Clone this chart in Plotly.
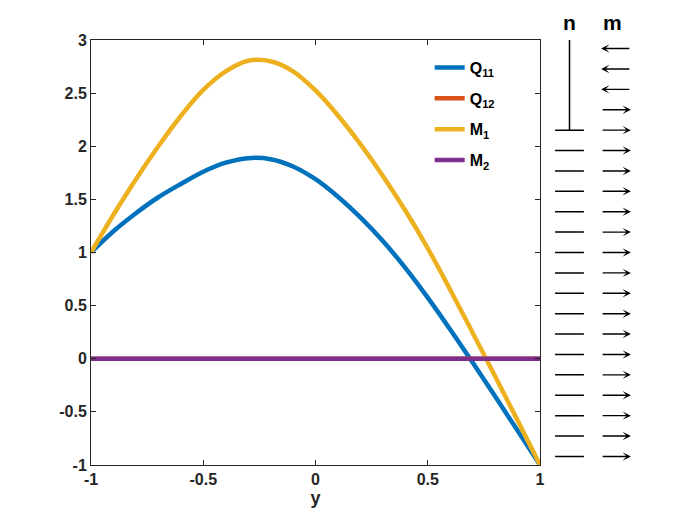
import plotly.graph_objects as go

y_pos = [-1.0, -0.9, -0.8, -0.7, -0.6, -0.5, -0.4, -0.3, -0.2, -0.1, 0.0,
         0.1, 0.2, 0.3, 0.4, 0.5, 0.6, 0.7, 0.8, 0.9, 1.0]
q11 = [1.00, 1.20, 1.37, 1.52, 1.645, 1.76, 1.845, 1.888, 1.878, 1.81, 1.69,
       1.525, 1.33, 1.108, 0.856, 0.576, 0.276, -0.036, -0.354, -0.676, -1.00]
q12 = [0.0, 0.0, 0.0, 0.0, 0.0, 0.0, 0.0, 0.0, 0.0, 0.0, 0.0,
       0.0, 0.0, 0.0, 0.0, 0.0, 0.0, 0.0, 0.0, 0.0, 0.0]
m1 = [1.00, 1.355, 1.69, 2.00, 2.285, 2.53, 2.705, 2.805, 2.80, 2.705, 2.525,
      2.29, 2.02, 1.72, 1.395, 1.04, 0.65, 0.245, -0.165, -0.58, -1.00]
m2 = [0.0, 0.0, 0.0, 0.0, 0.0, 0.0, 0.0, 0.0, 0.0, 0.0, 0.0,
      0.0, 0.0, 0.0, 0.0, 0.0, 0.0, 0.0, 0.0, 0.0, 0.0]

series_names = ["Q<sub>11</sub>", "Q<sub>12</sub>", "M<sub>1</sub>", "M<sub>2</sub>"]
series_colors = ["#0072BD", "#D95319", "#EDB120", "#7E2F8E"]

x_ticks = [-1, -0.5, 0, 0.5, 1]
x_ticklabels = ["-1", "-0.5", "0", "0.5", "1"]
y_ticks = [-1, -0.5, 0, 0.5, 1, 1.5, 2, 2.5, 3]
y_ticklabels = ["-1", "-0.5", "0", "0.5", "1", "1.5", "2", "2.5", "3"]

# side sketch: director n and vector m at each height, top to bottom
glyph_y = [1.0, 0.9, 0.8, 0.7, 0.6, 0.5, 0.4, 0.3, 0.2, 0.1, 0.0,
           -0.1, -0.2, -0.3, -0.4, -0.5, -0.6, -0.7, -0.8, -0.9, -1.0]
n_vertical = [1, 1, 1, 1, 0, 0, 0, 0, 0, 0, 0,
              0, 0, 0, 0, 0, 0, 0, 0, 0, 0]
m_dir = [-1, -1, -1, 1, 1, 1, 1, 1, 1, 1, 1,
         1, 1, 1, 1, 1, 1, 1, 1, 1, 1]

FONT = "Liberation Sans, Arial, sans-serif"
AX = "#262626"

fig = go.Figure()

for i, (name, vals, col) in enumerate(zip(series_names, [q11, q12, m1, m2], series_colors)):
    fig.add_trace(go.Scatter(
        x=y_pos, y=vals, name=name, mode="lines", legendgroup=str(i),
        line=dict(color=col, width=4.5, shape="spline"),
        xaxis="x", yaxis="y"))

# n column: horizontal dashes plus one vertical stroke through the vertical rows
hx, hy = [], []
for yy, v in zip(glyph_y, n_vertical):
    if not v:
        hx += [1 - 0.31, 1 + 0.31, None]
        hy += [yy, yy, None]
vert_rows = [yy for yy, v in zip(glyph_y, n_vertical) if v]
fig.add_trace(go.Scatter(x=hx, y=hy, mode="lines", showlegend=False,
                         line=dict(color="black", width=1.5),
                         xaxis="x2", yaxis="y2", hoverinfo="skip"))
fig.add_trace(go.Scatter(x=[1, 1], y=[max(vert_rows) + 0.045, min(vert_rows) - 0.1],
                         mode="lines", showlegend=False,
                         line=dict(color="black", width=1.5),
                         xaxis="x2", yaxis="y2", hoverinfo="skip"))

# m column: arrows
for yy, d in zip(glyph_y, m_dir):
    fig.add_annotation(x=2 + 0.32 * d, y=yy, ax=2 - 0.32 * d, ay=yy,
                       xref="x2", yref="y2", axref="x2", ayref="y2",
                       text="", showarrow=True, arrowhead=3, arrowsize=1,
                       arrowwidth=1.4, arrowcolor="black", standoff=0)

for lab, xx in [("n", 1), ("m", 1.93)]:
    fig.add_annotation(x=xx, y=1.04, xref="x2", yref="paper", text=lab,
                       showarrow=False, yanchor="middle",
                       font=dict(family=FONT, size=21, color="black", weight="bold"))

# the page adds an 8px body margin, so the figure is 8px smaller than the window
fig.update_layout(
    width=692, height=517,
    margin=dict(l=83, r=20, t=32, b=60),
    paper_bgcolor="white", plot_bgcolor="white",
    font=dict(family=FONT, color=AX),
    showlegend=True,
    legend=dict(x=0.575, y=0.975, xanchor="left", yanchor="top",
                bgcolor="white", borderwidth=0, tracegroupgap=7,
                font=dict(family=FONT, size=16, color="black", weight="bold")),
    xaxis=dict(domain=[0, 449 / 589], range=[-1, 1],
               tickvals=x_ticks, ticktext=x_ticklabels,
               ticks="inside", ticklen=5, tickcolor=AX,
               showline=True, linecolor=AX, linewidth=1, mirror="ticks",
               showgrid=False, zeroline=False,
               tickfont=dict(family=FONT, size=16, color=AX, weight="bold"),
               title=dict(text="y", standoff=2,
                          font=dict(family=FONT, size=18, color=AX, weight="bold"))),
    yaxis=dict(domain=[0, 1], range=[-1, 3],
               tickvals=y_ticks, ticktext=y_ticklabels,
               ticks="inside", ticklen=5, tickcolor=AX,
               showline=True, linecolor=AX, linewidth=1, mirror="ticks",
               showgrid=False, zeroline=False,
               tickfont=dict(family=FONT, size=16, color=AX, weight="bold")),
    xaxis2=dict(domain=[(546.25 - 91) / 589, (639.25 - 91) / 589], range=[0.5, 2.5],
                visible=False, anchor="y2"),
    yaxis2=dict(domain=[0, 1], range=[-1.042, 1.042], visible=False, anchor="x2"),
)

fig.write_html("out.html")
